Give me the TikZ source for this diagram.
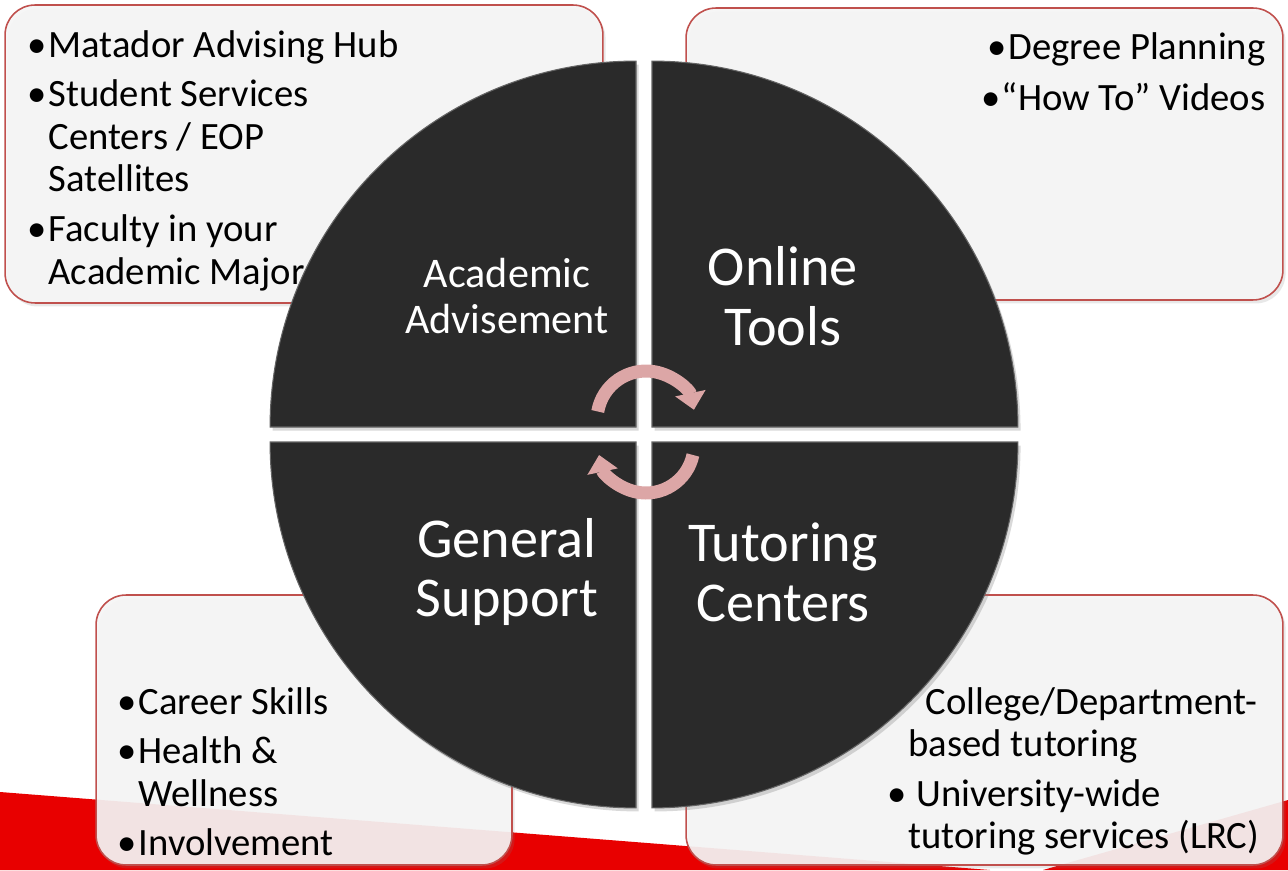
\documentclass[tikz,border=0pt]{standalone}
\usepackage{fontspec}
\setmainfont{Carlito}
\usetikzlibrary{positioning,arrows.meta,shadows}

\definecolor{boxred}{RGB}{192,80,77}
\definecolor{boxfill}{RGB}{245,245,245}
\definecolor{quadfill}{RGB}{42,42,42}
\definecolor{quadedge}{RGB}{100,100,100}
\definecolor{arrowpink}{RGB}{220,166,166}
\definecolor{bandred}{RGB}{232,0,0}

\newcommand\blt{\makebox[0.42cm][l]{\textbullet}}
\newcommand\ind{\hspace*{0.42cm}}

\tikzset{
    x=0.02cm, y=0.02cm, % one unit is one pixel of the slide
    }

\begin{document}
\begin{tikzpicture}[
infobox/.style={rectangle, rounded corners=0.6cm, draw=boxred, line width=0.9pt, fill=boxfill, fill opacity=0.92, inner sep=0pt, drop shadow={opacity=0.18, shadow xshift=1.5pt, shadow yshift=-2pt}},
boxtext/.style={inner sep=0pt, align=left, font=\fontsize{22}{24.2}\selectfont},
quadrant/.style={fill=quadfill, draw=quadedge, line width=0.6pt, drop shadow={opacity=0.3, shadow xshift=1.5pt, shadow yshift=-2pt}},
smalllabel/.style={text=white, inner sep=0pt, align=center, font=\fontsize{24}{26}\selectfont},
biglabel/.style={text=white, inner sep=0pt, align=center, font=\fontsize{32}{34}\selectfont},
cyclearrow/.style={draw=arrowpink, line width=0.26cm, -{Triangle[width=0.6cm,length=0.34cm]}},
]
\useasboundingbox (0,0) rectangle (1288,870);

% red band of the slide
\fill[bandred] (0,78) -- (990,0) -- (0,0) -- cycle;
\fill[bandred] (1043,0) -- (1288,70) -- (1288,0) -- cycle;

% the four boxes
\node[infobox, minimum width=11.96cm, minimum height=5.96cm] (advbox) at (304,716) {};
\node[infobox, minimum width=11.94cm, minimum height=5.84cm] (onlbox) at (984.5,716) {};
\node[infobox, minimum width=8.32cm, minimum height=5.4cm] (genbox) at (304,140) {};
\node[infobox, minimum width=11.94cm, minimum height=5.4cm] (tutbox) at (984.5,140) {};

\node[boxtext, below right=0.52cm and 0.46cm of advbox.north west] (advtext) {%
\blt Matador Advising Hub\\[0.14cm]
\blt Student Services\\
\ind Centers / EOP\\
\ind Satellites\\[0.14cm]
\blt Faculty in your\\
\ind Academic Major};
\node[boxtext, align=right, below left=0.51cm and 0.36cm of onlbox.north east] (onltext) {%
\blt Degree Planning\\[0.16cm]
\blt “How To” Videos};
\node[boxtext, below right=1.86cm and 0.44cm of genbox.north west] (gentext) {%
\blt Career Skills\\[0.14cm]
\blt Health \&\\
\ind Wellness\\[0.14cm]
\blt Involvement};
\node[boxtext, below right=1.86cm and 4.04cm of tutbox.north west] (tuttext) {%
\blt\hspace{0.34cm}College/Department-\\
\ind based tutoring\\[0.14cm]
\blt\hspace{0.16cm}University-wide\\
\ind tutoring services (LRC)};

% the circle in four quarters
\filldraw[quadrant] (636,443) -- ++(-7.32cm,0) arc[start angle=180, end angle=90, radius=7.32cm] -- cycle;
\filldraw[quadrant] (652,443) -- ++(0,7.32cm) arc[start angle=90, end angle=0, radius=7.32cm] -- cycle;
\filldraw[quadrant] (636,428) -- ++(0,-7.32cm) arc[start angle=270, end angle=180, radius=7.32cm] -- cycle;
\filldraw[quadrant] (652,428) -- ++(7.32cm,0) arc[start angle=0, end angle=-90, radius=7.32cm] -- cycle;

\node[smalllabel] (advise) at (507,574) {Academic\\Advisement};
\node[biglabel] (online) at (783,574) {Online\\Tools};
\node[biglabel] (general) at (507,298) {General\\Support};
\node[biglabel] (tutor) at (783,298) {Tutoring\\Centers};

% cycle arrows in the middle
\coordinate (hubtop) at (646,450);
\coordinate (hubbot) at (646,425);
\draw[cyclearrow] ([shift={(170:0.98cm)}]hubtop) arc[start angle=170, end angle=12, radius=0.98cm];
\draw[cyclearrow] ([shift={(-12:0.96cm)}]hubbot) arc[start angle=-12, end angle=-168, radius=0.96cm];
\end{tikzpicture}
\end{document}
